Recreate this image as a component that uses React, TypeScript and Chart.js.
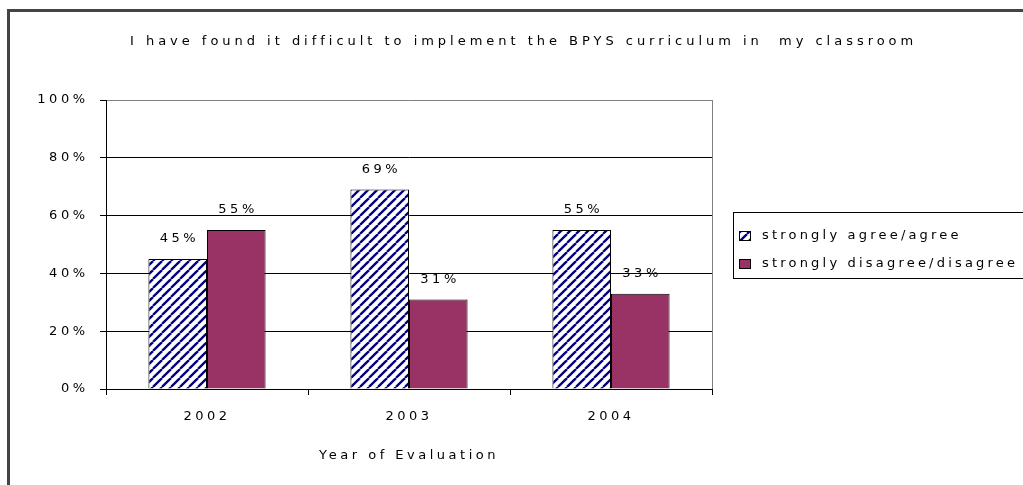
import React, { useEffect, useRef } from "react";
import { Chart, registerables } from "chart.js";

Chart.register(...registerables);

const titleText = "I have found it difficult to implement the BPYS curriculum in  my classroom";
const categories = ["2002", "2003", "2004"];
const agreeLabel = "strongly agree/agree";
const disagreeLabel = "strongly disagree/disagree";
const agreeValues = [0.45, 0.69, 0.55];
const disagreeValues = [0.55, 0.31, 0.33];
const axisTitle = "Year of Evaluation";

const FONT = "'DejaVu Sans', Verdana, sans-serif";
const NAVY = "#000080";
const PLUM = "#993366";
const SP = 3.5;

function makeHatch(): CanvasPattern | string {
  const n = 9;
  const c = document.createElement("canvas");
  c.width = n;
  c.height = n;
  const g = c.getContext("2d");
  if (!g) return NAVY;
  g.fillStyle = "#ffffff";
  g.fillRect(0, 0, n, n);
  g.strokeStyle = NAVY;
  g.lineWidth = 2.3;
  for (const o of [-n, 0, n]) {
    g.beginPath();
    g.moveTo(o, n);
    g.lineTo(o + n, 0);
    g.stroke();
  }
  const ctx = document.createElement("canvas").getContext("2d");
  return ctx ? (ctx.createPattern(c, "repeat") as CanvasPattern) : NAVY;
}

function fitSpacing(ctx: any, text: string, target: number): number {
  ctx.letterSpacing = "0px";
  const w = ctx.measureText(text).width;
  return (target - w) / Math.max(1, text.length - 1);
}

export default function App() {
  const ref = useRef<HTMLCanvasElement | null>(null);

  useEffect(() => {
    const canvas = ref.current;
    if (!canvas) return;
    const hatch = makeHatch();

    const decor = {
      id: "decor",
      beforeDraw(chart: any) {
        const ctx = chart.ctx;
        ctx.save();
        ctx.fillStyle = "#ffffff";
        ctx.fillRect(0, 0, chart.width, chart.height);
        ctx.fillStyle = "#444444";
        ctx.fillRect(7, 9, chart.width, 3);
        ctx.fillRect(7, 9, 3, chart.height);
        ctx.restore();
        ctx.letterSpacing = SP + "px";
      },
      beforeDatasetsDraw(chart: any) {
        const ctx = chart.ctx;
        const a = chart.chartArea;
        ctx.save();
        ctx.strokeStyle = "#808080";
        ctx.lineWidth = 1;
        ctx.beginPath();
        ctx.moveTo(Math.round(a.right) + 0.5, a.top);
        ctx.lineTo(Math.round(a.right) + 0.5, a.bottom);
        ctx.stroke();
        ctx.restore();
      },
      afterDatasetsDraw(chart: any) {
        const ctx = chart.ctx;
        ctx.save();
        ctx.font = `13px ${FONT}`;
        ctx.fillStyle = "#000";
        ctx.textAlign = "center";
        ctx.textBaseline = "middle";
        ctx.letterSpacing = SP + "px";
        chart.data.datasets.forEach((ds: any, i: number) => {
          const meta = chart.getDatasetMeta(i);
          meta.data.forEach((el: any, j: number) => {
            const v = ds.data[j];
            ctx.fillText(Math.round(v * 100) + "%", el.x + SP / 2, el.y - 20);
          });
        });
        ctx.restore();
      },
      afterDraw(chart: any) {
        const ctx = chart.ctx;
        ctx.save();
        ctx.fillStyle = "#000";
        ctx.font = `13px ${FONT}`;
        ctx.textBaseline = "middle";
        ctx.textAlign = "left";
        const ts = fitSpacing(ctx, titleText, 783);
        ctx.letterSpacing = ts + "px";
        ctx.fillText(titleText, 130, 42);
        ctx.letterSpacing = "0px";
        ctx.strokeStyle = "#000";
        ctx.lineWidth = 1;
        ctx.strokeRect(733.5, 212.5, 320, 66);
        ctx.font = `13px ${FONT}`;
        const ls = fitSpacing(ctx, disagreeLabel, 253);
        const rows = [
          { label: agreeLabel, fill: hatch, y: 236 },
          { label: disagreeLabel, fill: PLUM, y: 264 },
        ];
        rows.forEach((r) => {
          ctx.letterSpacing = "0px";
          ctx.fillStyle = r.fill;
          ctx.fillRect(739, r.y - 5, 12, 10);
          ctx.strokeStyle = "#000";
          ctx.strokeRect(739.5, r.y - 4.5, 11, 9);
          ctx.fillStyle = "#000";
          ctx.letterSpacing = ls + "px";
          ctx.fillText(r.label, 762, r.y);
        });
        ctx.restore();
      },
    };

    const chart = new Chart(canvas, {
      type: "bar",
      data: {
        labels: categories,
        datasets: [
          {
            label: agreeLabel,
            data: agreeValues,
            backgroundColor: hatch as any,
            borderColor: "#000",
            borderWidth: 1,
            categoryPercentage: 0.58,
            barPercentage: 1,
          },
          {
            label: disagreeLabel,
            data: disagreeValues,
            backgroundColor: PLUM,
            borderColor: "#000",
            borderWidth: 1,
            categoryPercentage: 0.58,
            barPercentage: 1,
          },
        ],
      },
      options: {
        animation: false,
        responsive: false,
        devicePixelRatio: 1,
        layout: { padding: { top: 100, right: 311, bottom: 22, left: 0 } },
        plugins: {
          legend: { display: false },
          title: { display: false },
          tooltip: { enabled: false },
        },
        scales: {
          x: {
            afterFit(scale: any) {
              scale.height = 74;
            },
            grid: {
              display: true,
              drawOnChartArea: false,
              drawTicks: true,
              tickLength: 6,
              color: "#000",
              offset: true,
            },
            border: { display: true, color: "#000", width: 1 },
            ticks: {
              color: "#000",
              font: { family: FONT, size: 13 },
              padding: 14,
              maxRotation: 0,
            },
            title: {
              display: true,
              text: axisTitle,
              color: "#000",
              font: { family: FONT, size: 13 },
              padding: 0,
            },
          },
          y: {
            min: 0,
            max: 1,
            afterFit(scale: any) {
              scale.width = 106;
            },
            grid: {
              color: (c: any) => (c.tick && c.tick.value === 1 ? "#808080" : "#000"),
              tickColor: "#000",
              drawTicks: true,
              tickLength: 6,
              lineWidth: 1,
            },
            border: { display: true, color: "#000", width: 1 },
            ticks: {
              stepSize: 0.2,
              color: "#000",
              font: { family: FONT, size: 13 },
              padding: 15 - SP,
              callback: (v: any) => Math.round(Number(v) * 100) + "%",
            },
          },
        },
      },
      plugins: [decor],
    });

    return () => chart.destroy();
  }, []);

  return (
    <div style={{ position: "fixed", left: 0, top: 0, width: 1023, height: 485, background: "#fff" }}>
      <canvas ref={ref} width={1023} height={485} style={{ width: 1023, height: 485, display: "block" }} />
    </div>
  );
}
